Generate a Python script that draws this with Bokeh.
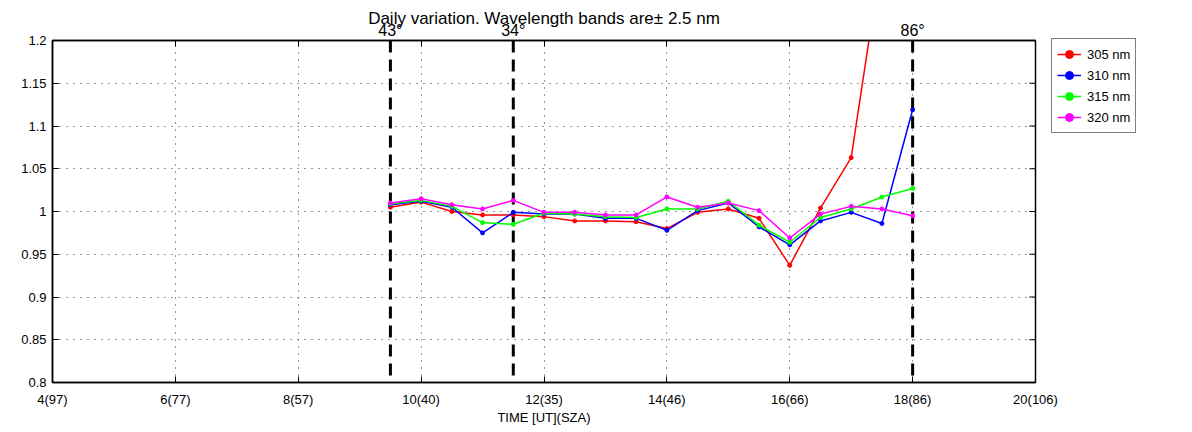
from bokeh.plotting import figure
from bokeh.models import (FixedTicker, PrintfTickFormatter, LinearAxis, Span,
                          Legend, LegendItem, Range1d)
from bokeh.embed import file_html
from bokeh.resources import INLINE

# ---- data ----
hours = [9.5, 10.0, 10.5, 11.0, 11.5, 12.0, 12.5, 13.0, 13.5,
         14.0, 14.5, 15.0, 15.5, 16.0, 16.5, 17.0, 17.5, 18.0]
nm305 = [1.005, 1.011, 1.000, 0.996, 0.996, 0.994, 0.989, 0.989, 0.988,
         0.980, 0.999, 1.003, 0.992, 0.937, 1.004, 1.063, 1.300, 1.400]
nm310 = [1.008, 1.012, 1.005, 0.975, 0.999, 0.997, 0.997, 0.992, 0.992,
         0.978, 1.001, 1.010, 0.982, 0.961, 0.989, 0.999, 0.986, 1.119]
nm315 = [1.009, 1.013, 1.006, 0.987, 0.985, 0.998, 0.997, 0.994, 0.993,
         1.003, 1.003, 1.012, 0.984, 0.964, 0.993, 1.003, 1.017, 1.027]
nm320 = [1.010, 1.015, 1.008, 1.003, 1.013, 0.999, 0.999, 0.996, 0.996,
         1.017, 1.005, 1.010, 1.001, 0.969, 0.997, 1.006, 1.003, 0.995]

series_values = [nm305, nm310, nm315, nm320]
series_names = ["305 nm", "310 nm", "315 nm", "320 nm"]
series_colors = ["#ff0000", "#0000ff", "#00ff00", "#ff00ff"]

x_ticks = [4, 6, 8, 10, 12, 14, 16, 18, 20]
x_tick_labels = ["4(97)", "6(77)", "8(57)", "10(40)", "12(35)", "14(46)",
                 "16(66)", "18(86)", "20(106)"]
y_ticks = [0.8, 0.85, 0.9, 0.95, 1.0, 1.05, 1.1, 1.15, 1.2]

marker_hours = [9.5, 11.5, 18.0]
marker_labels = ["43\u00b0", "34\u00b0", "86\u00b0"]

title_text = "Daily variation. Wavelength bands are\u00b1 2.5 nm"

FONT = "Liberation Sans"
FS = "13px"
X_LO, X_HI = 4, 20

p = figure(frame_width=983, frame_height=342,
           x_range=Range1d(X_LO, X_HI), y_range=Range1d(0.8, 1.2),
           output_backend="svg", toolbar_location=None,
           min_border_left=52, min_border_right=141,
           min_border_top=40, min_border_bottom=48)

p.background_fill_color = "white"
p.border_fill_color = "white"
p.outline_line_color = "black"
p.outline_line_width = 1.5

# bottom / left axes
p.xaxis.ticker = FixedTicker(ticks=x_ticks)
p.xaxis.major_label_overrides = {t: l for t, l in zip(x_ticks, x_tick_labels)}
p.yaxis.ticker = FixedTicker(ticks=y_ticks)
p.yaxis.formatter = PrintfTickFormatter(format="%g")
p.xaxis.axis_label = "TIME [UT](SZA)"

for ax in [p.xaxis[0], p.yaxis[0]]:
    ax.major_tick_in = 6
    ax.major_tick_out = 0
    ax.minor_tick_line_color = None
    ax.axis_line_width = 1.5
    ax.axis_line_color = "black"
    ax.major_tick_line_color = "black"
    ax.major_label_text_font = FONT
    ax.major_label_text_font_size = FS
    ax.major_label_text_color = "black"
    ax.axis_label_text_font = FONT
    ax.axis_label_text_font_size = FS
    ax.axis_label_text_font_style = "normal"
    ax.axis_label_text_color = "black"
p.xaxis.major_label_standoff = 9
p.xaxis.axis_label_standoff = 0
p.yaxis.major_label_standoff = 6

# top axis: SZA marker labels + title, inward minor ticks at grid positions
top_ax = LinearAxis(ticker=FixedTicker(ticks=marker_hours, minor_ticks=x_ticks),
                    major_label_overrides={m: l for m, l in zip(marker_hours, marker_labels)},
                    major_tick_line_color=None, major_tick_in=0, major_tick_out=0,
                    minor_tick_in=6, minor_tick_out=0, minor_tick_line_color="black",
                    axis_line_width=1.5, axis_line_color="black",
                    major_label_standoff=2,
                    major_label_text_font=FONT, major_label_text_font_size="16px",
                    major_label_text_color="black",
                    axis_label=title_text, axis_label_standoff=-9,
                    axis_label_text_font=FONT, axis_label_text_font_size="17px",
                    axis_label_text_font_style="normal", axis_label_text_color="black")
p.add_layout(top_ax, "above")

# inward ticks on the right edge
tick_len = 0.1
p.segment(x0=[X_HI] * len(y_ticks), y0=y_ticks,
          x1=[X_HI - tick_len] * len(y_ticks), y1=y_ticks,
          line_color="black", line_width=1)

# grid
p.xgrid.ticker = FixedTicker(ticks=x_ticks)
p.ygrid.ticker = FixedTicker(ticks=y_ticks)
p.grid.grid_line_color = "black"
p.grid.grid_line_alpha = 0.8
p.grid.grid_line_width = 1
p.grid.grid_line_dash = "1 6"

# vertical SZA markers
for xv in marker_hours:
    p.add_layout(Span(location=xv, dimension="height", line_color="black",
                      line_width=3, line_dash="12 7", level="underlay"))

# series
items = []
for vals, name, col in zip(series_values, series_names, series_colors):
    rl = p.line(hours, vals, line_color=col, line_width=1.5)
    rs = p.scatter(hours, vals, size=4, fill_color=col, line_color=col)
    items.append(LegendItem(label=name, renderers=[rl, rs]))

legend = Legend(items=items, location=(16, 249))
legend.label_text_font = FONT
legend.label_text_font_size = FS
legend.label_text_color = "black"
legend.border_line_color = "black"
legend.border_line_width = 1.5
legend.background_fill_color = "white"
legend.background_fill_alpha = 1
legend.glyph_width = 24
legend.glyph_height = 20
legend.label_height = 20
legend.label_standoff = 6
legend.padding = 5
legend.spacing = 1
legend.margin = 0
p.add_layout(legend, "right")

open("out.html", "w").write(file_html(p, INLINE))
